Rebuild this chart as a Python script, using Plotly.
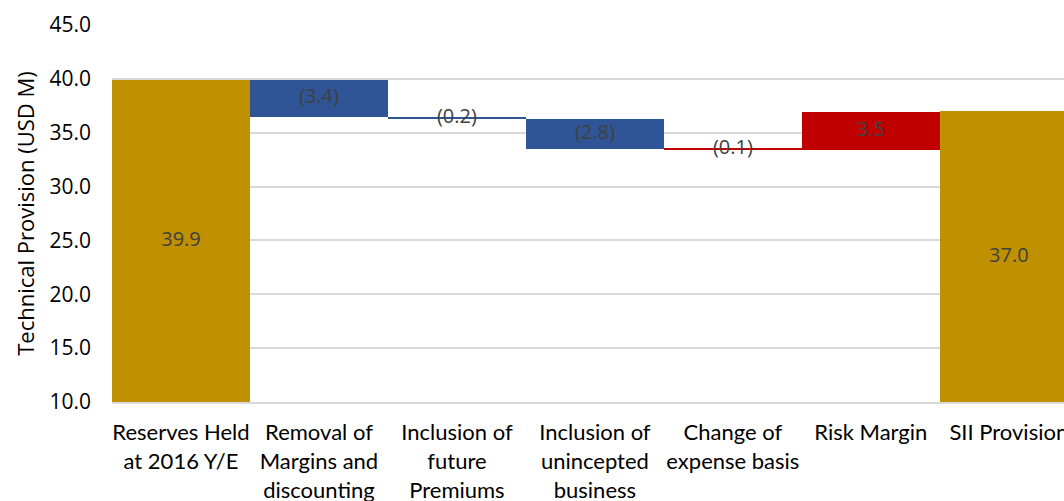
import plotly.graph_objects as go

categories = ["Reserves Held<br>at 2016 Y/E", "Removal of<br>Margins and<br>discounting",
              "Inclusion of<br>future<br>Premiums", "Inclusion of<br>unincepted<br>business",
              "Change of<br>expense basis", "Risk Margin", "SII Provision"]
values = [39.9, -3.4, -0.2, -2.8, -0.1, 3.5, 37.0]
kinds = ["total", "delta", "delta", "delta", "delta", "delta", "total"]
labels = ["39.9", "(3.4)", "(0.2)", "(2.8)", "(0.1)", "3.5", "37.0"]
colors = ["#BF9000", "#2F5597", "#2F5597", "#2F5597", "#C00000", "#C00000", "#BF9000"]

bases, heights, mids = [], [], []
running = 0.0
for v, k in zip(values, kinds):
    if k == "total":
        b, h = 10.0, v - 10.0
        running = v
    else:
        b = running + min(v, 0)
        h = abs(v)
        running += v
    bases.append(b)
    heights.append(h)
    mids.append(b + h / 2)

# thin bars rendered with a minimum visible height
disp_h = [max(h, 0.12) for h in heights]
disp_b = [b if h >= 0.12 else b + h - 0.12 / 2 for b, h in zip(bases, heights)]

x = list(range(len(categories)))
fig = go.Figure()
fig.add_trace(go.Bar(x=x, y=disp_h, base=disp_b, marker=dict(color=colors, line=dict(width=0)),
                     width=1.0, hoverinfo="skip"))
fig.add_trace(go.Scatter(x=x, y=mids, mode="text", text=labels,
                         textfont=dict(family="Open Sans", size=20, color="#404040"),
                         hoverinfo="skip"))

fig.update_layout(
    width=1064, height=501,
    margin=dict(l=112, r=0, t=25, b=99),
    plot_bgcolor="white", paper_bgcolor="white",
    showlegend=False, bargap=0,
    xaxis=dict(tickmode="array", tickvals=x, ticktext=categories, range=[-0.5, 6.4],
               tickfont=dict(family="Lato", size=22, color="#000000"),
               ticklabelstandoff=10, ticklabeloverflow="allow", automargin=False,
               showgrid=False, showline=True, linecolor="#D9D9D9", linewidth=2, ticks=""),
    yaxis=dict(range=[10, 45], tickmode="array", tickvals=[10, 15, 20, 25, 30, 35, 40, 45],
               ticktext=["10.0", "15.0", "20.0", "25.0", "30.0", "35.0", "40.0", "45.0"],
               tickfont=dict(family="Open Sans", size=21, color="#000000"),
               ticklabelstandoff=20, automargin=False,
               showgrid=True, gridcolor="#D9D9D9", gridwidth=1.5, zeroline=False,
               title=dict(text="Technical Provision (USD M)", standoff=8,
                          font=dict(family="Open Sans", size=22, color="#000000"))),
)
fig.write_html("out.html")
